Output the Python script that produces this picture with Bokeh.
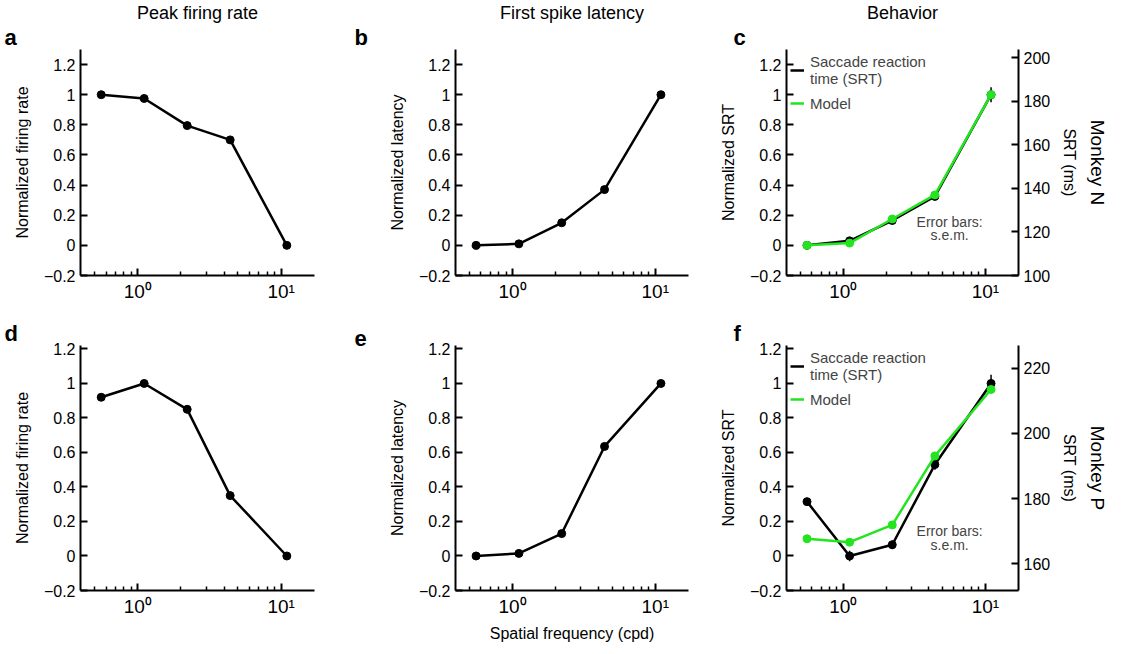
from bokeh.embed import file_html
from bokeh.resources import INLINE
from bokeh.layouts import gridplot
from bokeh.models import (FixedTicker, CustomJSTickFormatter, LinearAxis,
                          Range1d, Label, Legend, LegendItem, Title, Whisker, ColumnDataSource)
from bokeh.plotting import figure

FONT = "Liberation Sans"

sf = [0.555, 1.107, 2.21, 4.41, 10.96]

peak_n = [1.0, 0.975, 0.795, 0.70, 0.0]
lat_n = [0.0, 0.01, 0.15, 0.37, 1.0]
srt_n = [0.0, 0.03, 0.165, 0.325, 1.0]
srt_n_err = [0.02, 0.015, 0.015, 0.02, 0.05]
model_n = [0.0, 0.015, 0.175, 0.335, 1.0]

peak_p = [0.92, 1.0, 0.85, 0.35, 0.0]
lat_p = [0.0, 0.015, 0.13, 0.635, 1.0]
srt_p = [0.315, 0.0, 0.065, 0.53, 1.0]
srt_p_err = [0.02, 0.03, 0.025, 0.03, 0.05]
model_p = [0.10, 0.08, 0.18, 0.58, 0.965]

y_ticks = [-0.2, 0, 0.2, 0.4, 0.6, 0.8, 1, 1.2]
x_major = [1, 10]
x_minor = [0.5, 0.6, 0.7, 0.8, 0.9, 2, 3, 4, 5, 6, 7, 8, 9]
ms_ticks_n = [100, 120, 140, 160, 180, 200]
ms_ticks_p = [160, 180, 200, 220]

fmt_y = CustomJSTickFormatter(code="return tick < 0 ? '\u2212' + Math.abs(tick).toFixed(1) : (tick == 0 || tick == 1 ? tick.toFixed(0) : tick.toFixed(1));")
fmt_x = CustomJSTickFormatter(code="return tick == 1 ? '10\u2070' : '10\u00b9';")


def style_axis(ax, size="16px"):
    ax.major_label_text_font = FONT
    ax.major_label_text_font_size = size
    ax.major_label_text_color = "black"
    ax.axis_label_text_font = FONT
    ax.axis_label_text_font_size = "16px"
    ax.axis_label_text_font_style = "normal"
    ax.axis_label_text_color = "black"
    ax.axis_line_width = 2
    ax.major_tick_line_width = 2


def panel(letter, ylabel, width, bl, br, top_row, header=None, xlabel=None, ytop=1.3):
    height = 318 if top_row else 328
    bb = 43 if top_row else 56
    p = figure(width=width, height=height, x_axis_type="log", output_backend="svg",
               toolbar_location=None, x_range=Range1d(0.398, 17.1),
               y_range=Range1d(-0.2, ytop), min_border_left=bl, min_border_right=br,
               min_border_top=0, min_border_bottom=bb, title=None)
    p.outline_line_color = None
    p.grid.visible = False
    xa = p.xaxis[0]
    xa.ticker = FixedTicker(ticks=x_major, minor_ticks=x_minor)
    xa.formatter = fmt_x
    xa.major_tick_in, xa.major_tick_out = 7, 0
    xa.minor_tick_in, xa.minor_tick_out = 4, 0
    xa.minor_tick_line_width = 1.5
    style_axis(xa, "19px")
    if xlabel:
        xa.axis_label = xlabel
    ya = p.yaxis[0]
    ya.ticker = FixedTicker(ticks=y_ticks)
    ya.formatter = fmt_y
    ya.minor_tick_line_color = None
    ya.major_tick_in, ya.major_tick_out = 7, 0
    ya.axis_label = ylabel
    ya.axis_label_standoff = 10
    style_axis(ya)
    p.add_layout(Title(text=letter, align="left", offset=-(bl - 4), text_font=FONT,
                       text_font_size="22px", text_font_style="bold", standoff=0,
                       text_color="black"), "above")
    p.add_layout(Title(text=header or "", align="center", text_font=FONT,
                       text_font_size="18px", text_font_style="normal", standoff=0,
                       text_color="black"), "above")
    return p


def line(p, y, color="black", width=2.5):
    r = p.line(sf, y, line_color=color, line_width=width)
    p.scatter(sf, y, size=8, color=color)
    return r


def behavior(p, srt, err, model, ms_ticks, ms_start, ms_end, monkey):
    src = ColumnDataSource(dict(x=sf, lo=[a - e for a, e in zip(srt, err)],
                                hi=[a + e for a, e in zip(srt, err)]))
    p.add_layout(Whisker(source=src, base="x", lower="lo", upper="hi", line_width=1.5,
                         upper_head=None, lower_head=None))
    r1 = line(p, srt)
    r2 = line(p, model, color="#22e51f")
    p.extra_y_ranges = {"ms": Range1d(ms_start, ms_end)}
    ax = LinearAxis(y_range_name="ms", ticker=FixedTicker(ticks=ms_ticks), axis_label="SRT (ms)")
    ax.major_tick_in, ax.major_tick_out = 7, 0
    ax.minor_tick_line_color = None
    ax.axis_label_standoff = 8
    style_axis(ax)
    p.add_layout(ax, "right")
    t = Title(text=monkey, text_font=FONT, text_font_size="19px", text_font_style="normal",
              align="center", text_color="black")
    p.add_layout(t, "right")
    leg = Legend(items=[LegendItem(label="Saccade reaction\ntime (SRT)", renderers=[r1]),
                        LegendItem(label="Model", renderers=[r2])],
                 location="top_left", border_line_color=None, background_fill_alpha=0,
                 label_text_font=FONT, label_text_font_size="15px", glyph_width=14,
                 label_standoff=6, spacing=6, margin=4, padding=4)
    p.add_layout(leg)
    p.add_layout(Label(x=5.6, y=0.10, text="Error bars:", text_align="center",
                       text_font=FONT, text_font_size="14px"))
    p.add_layout(Label(x=5.6, y=0.015, text="s.e.m.", text_align="center",
                       text_font=FONT, text_font_size="14px"))


pa = panel("a", "Normalized firing rate", 350, 80, 36, True, header="Peak firing rate")
line(pa, peak_n)
pb = panel("b", "Normalized latency", 366, 105, 28, True, header="First spike latency")
line(pb, lat_n)
pc = panel("c", "Normalized SRT", 403, 57, 101, True, header="Behavior")
behavior(pc, srt_n, srt_n_err, model_n, ms_ticks_n, 100, 203.7, "Monkey N")

pd = panel("d", "Normalized firing rate", 350, 80, 36, False, ytop=1.22)
line(pd, peak_p)
pe = panel("e", "Normalized latency", 366, 105, 28, False, xlabel="Spatial frequency (cpd)", ytop=1.22)
line(pe, lat_p)
pf = panel("f", "Normalized SRT", 403, 57, 101, False, ytop=1.22)
behavior(pf, srt_p, srt_p_err, model_p, ms_ticks_p, 151.8, 227, "Monkey P")

grid = gridplot([[pa, pb, pc], [pd, pe, pf]], toolbar_location=None)
open("out.html", "w").write(file_html(grid, INLINE))
